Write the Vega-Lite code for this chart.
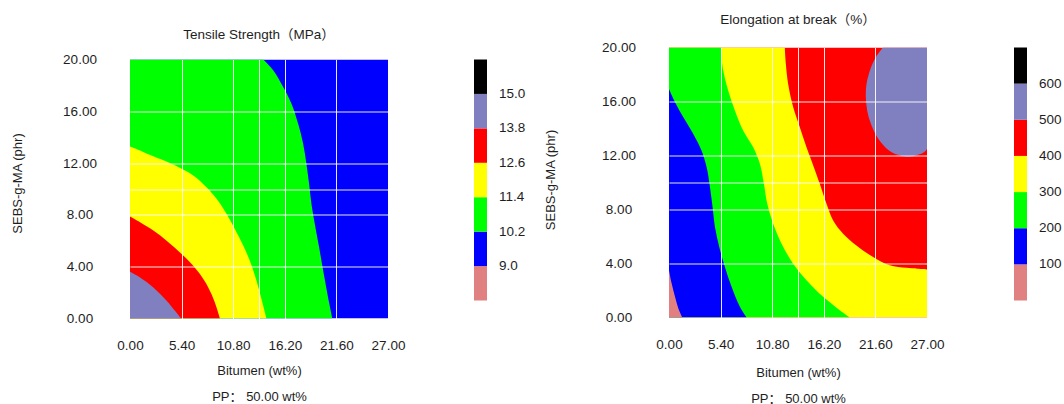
{
  "$schema": "https://vega.github.io/schema/vega-lite/v6.json",
  "padding": {"left": 11, "top": 12.5, "right": 0, "bottom": 0},
  "background": "white",
  "config": {
    "view": {"stroke": null},
    "font": "Liberation Sans, Noto Sans CJK SC",
    "title": {"font": "Liberation Sans, Noto Sans CJK SC", "fontSize": 13.5, "fontWeight": "normal", "color": "#1e1e1e", "anchor": "middle", "frame": "group", "baseline": "alphabetic"},
    "axis": {
      "labelFont": "Liberation Sans", "labelFontSize": 13.5, "labelColor": "#1e1e1e",
      "titleFont": "Liberation Sans, Noto Sans CJK SC", "titleFontSize": 13, "titleFontWeight": "normal", "titleColor": "#1e1e1e",
      "domain": false, "ticks": false, "tickSize": 0, "labelFlush": false, "labelOverlap": false,
      "grid": true, "gridColor": "#ffffff", "gridWidth": 1
    },
    "legend": {"labelFont": "Liberation Sans", "labelFontSize": 13.5, "labelColor": "#1e1e1e"}
  },
  "spacing": 18,
  "resolve": {"scale": {"color": "independent", "x": "independent", "y": "independent"}, "legend": {"color": "independent"}},
  "hconcat": [
    {
      "spacing": 11,
      "resolve": {"scale": {"color": "independent", "x": "independent", "y": "independent"}, "legend": {"color": "independent"}},
      "vconcat": [
        {
          "width": 258,
          "height": 1,
          "title": {"text": "Tensile Strength（MPa）", "offset": -4},
          "data": {"values": []},
          "mark": "rect"
        },
        {
          "width": 258,
          "height": 259,
          "data": {"values": [
            {"band": "blue", "level": 9.6, "y": 0, "x": 27},
            {"band": "blue", "level": 9.6, "y": 20, "x": 27},
            {"band": "green", "level": 10.8, "y": 0, "x": 21.18},
            {"band": "green", "level": 10.8, "y": 1.63, "x": 20.73},
            {"band": "green", "level": 10.8, "y": 3.43, "x": 20.28},
            {"band": "green", "level": 10.8, "y": 5.5, "x": 19.79},
            {"band": "green", "level": 10.8, "y": 7.3, "x": 19.34},
            {"band": "green", "level": 10.8, "y": 8.85, "x": 18.99},
            {"band": "green", "level": 10.8, "y": 10.4, "x": 18.74},
            {"band": "green", "level": 10.8, "y": 11.95, "x": 18.46},
            {"band": "green", "level": 10.8, "y": 13.5, "x": 18.12},
            {"band": "green", "level": 10.8, "y": 15.05, "x": 17.59},
            {"band": "green", "level": 10.8, "y": 16.59, "x": 16.9},
            {"band": "green", "level": 10.8, "y": 17.88, "x": 16.03},
            {"band": "green", "level": 10.8, "y": 19.17, "x": 14.98},
            {"band": "green", "level": 10.8, "y": 20, "x": 13.94},
            {"band": "yellow", "level": 12.0, "y": 0, "x": 14.28},
            {"band": "yellow", "level": 12.0, "y": 1.5, "x": 13.76},
            {"band": "yellow", "level": 12.0, "y": 2.92, "x": 13.24},
            {"band": "yellow", "level": 12.0, "y": 4.46, "x": 12.54},
            {"band": "yellow", "level": 12.0, "y": 5.63, "x": 11.85},
            {"band": "yellow", "level": 12.0, "y": 6.92, "x": 10.97},
            {"band": "yellow", "level": 12.0, "y": 8.08, "x": 10.1},
            {"band": "yellow", "level": 12.0, "y": 9.24, "x": 9.06},
            {"band": "yellow", "level": 12.0, "y": 10.14, "x": 8.01},
            {"band": "yellow", "level": 12.0, "y": 11.05, "x": 6.62},
            {"band": "yellow", "level": 12.0, "y": 11.56, "x": 5.4},
            {"band": "yellow", "level": 12.0, "y": 12.0, "x": 4.18},
            {"band": "yellow", "level": 12.0, "y": 12.52, "x": 2.44},
            {"band": "yellow", "level": 12.0, "y": 12.98, "x": 1.05},
            {"band": "yellow", "level": 12.0, "y": 13.29, "x": 0},
            {"band": "red", "level": 13.2, "y": 0, "x": 9.41},
            {"band": "red", "level": 13.2, "y": 1.24, "x": 8.88},
            {"band": "red", "level": 13.2, "y": 2.4, "x": 8.19},
            {"band": "red", "level": 13.2, "y": 3.43, "x": 7.32},
            {"band": "red", "level": 13.2, "y": 4.21, "x": 6.45},
            {"band": "red", "level": 13.2, "y": 4.98, "x": 5.4},
            {"band": "red", "level": 13.2, "y": 6.01, "x": 3.83},
            {"band": "red", "level": 13.2, "y": 6.79, "x": 2.44},
            {"band": "red", "level": 13.2, "y": 7.43, "x": 1.05},
            {"band": "red", "level": 13.2, "y": 7.87, "x": 0},
            {"band": "purple", "level": 14.4, "y": 0, "x": 5.33},
            {"band": "purple", "level": 14.4, "y": 0.59, "x": 4.7},
            {"band": "purple", "level": 14.4, "y": 1.37, "x": 3.83},
            {"band": "purple", "level": 14.4, "y": 2.4, "x": 2.44},
            {"band": "purple", "level": 14.4, "y": 3.17, "x": 1.05},
            {"band": "purple", "level": 14.4, "y": 3.61, "x": 0}
          ]},
          "encoding": {
            "y": {"field": "y", "type": "quantitative", "scale": {"domain": [0, 20], "nice": false, "zero": false},
              "axis": {"title": "SEBS-g-MA (phr)", "values": [0, 4, 8, 10, 12, 16, 20], "zindex": 1,
                "labelExpr": "datum.value == 10 ? '' : format(datum.value, '.2f')",
                "labelAlign": "center", "labelPadding": 50.5, "titlePadding": 38, "titleY": 123.5,
                "gridOpacity": {"condition": {"test": "datum.value == 0 || datum.value == 20", "value": 0}, "value": 0.9}}},
            "color": {"field": "level", "type": "quantitative",
              "scale": {"type": "threshold", "domain": [9, 10.2, 11.4, 12.6, 13.8, 15],
                "range": ["#e08080", "#0000ff", "#00ff00", "#ffff00", "#ff0000", "#8080c0", "#000000"]},
              "legend": {"type": "gradient", "direction": "vertical", "orient": "right", "offset": 86, "title": null,
                "gradientLength": 241, "gradientThickness": 13, "gradientStrokeWidth": 0,
                "format": ".1f", "labelOffset": 12}}
          },
          "layer": [
            {"transform": [{"filter": "datum.band == 'blue'"}],
              "mark": {"type": "area", "orient": "horizontal", "interpolate": "linear", "opacity": 1, "clip": true},
              "encoding": {"x": {"field": "x", "type": "quantitative", "stack": null, "scale": {"domain": [0, 27], "nice": false, "zero": false},
                "axis": {"title": ["Bitumen (wt%)", "PP： 50.00 wt%"], "titleLineHeight": 26, "values": [0, 5.4, 10.8, 13.5, 16.2, 21.6, 27], "zindex": 1,
                  "labelExpr": "datum.value == 13.5 ? '' : format(datum.value, '.2f')",
                  "labelPadding": 20, "titlePadding": 12.5,
                  "gridOpacity": {"condition": {"test": "datum.value == 0 || datum.value == 27", "value": 0}, "value": 0.9}}}}},
            {"transform": [{"filter": "datum.band == 'green'"}],
              "mark": {"type": "area", "orient": "horizontal", "interpolate": "catmull-rom", "opacity": 1, "clip": true},
              "encoding": {"x": {"field": "x", "type": "quantitative", "stack": null}}},
            {"transform": [{"filter": "datum.band == 'yellow'"}],
              "mark": {"type": "area", "orient": "horizontal", "interpolate": "catmull-rom", "opacity": 1, "clip": true},
              "encoding": {"x": {"field": "x", "type": "quantitative", "stack": null}}},
            {"transform": [{"filter": "datum.band == 'red'"}],
              "mark": {"type": "area", "orient": "horizontal", "interpolate": "catmull-rom", "opacity": 1, "clip": true},
              "encoding": {"x": {"field": "x", "type": "quantitative", "stack": null}}},
            {"transform": [{"filter": "datum.band == 'purple'"}],
              "mark": {"type": "area", "orient": "horizontal", "interpolate": "catmull-rom", "opacity": 1, "clip": true},
              "encoding": {"x": {"field": "x", "type": "quantitative", "stack": null}}},
            {"data": {"values": [{"frame": "plot"}]},
              "mark": {"type": "rect", "filled": false, "strokeWidth": 1.2},
              "encoding": {"x": {"datum": 0, "type": "quantitative"}, "x2": {"datum": 27},
                "y": {"datum": 0, "type": "quantitative"}, "y2": {"datum": 20},
                "color": {"value": "#111111"}}}
          ]
        }
      ]
    },
    {
      "spacing": 2,
      "resolve": {"scale": {"color": "independent", "x": "independent", "y": "independent"}, "legend": {"color": "independent"}},
      "vconcat": [
        {
          "width": 258,
          "height": 1,
          "title": {"text": "Elongation at break（%）", "offset": 10.7},
          "data": {"values": []},
          "mark": "rect"
        },
        {
          "width": 258,
          "height": 270,
          "data": {"values": [
            {"band": "red", "level": 450, "y": 0, "x": 27},
            {"band": "red", "level": 450, "y": 20, "x": 27},
            {"band": "purple", "level": 550, "y": 11.9, "x": 25.0, "x2": 25.0},
            {"band": "purple", "level": 550, "y": 11.95, "x": 24.45, "x2": 25.55},
            {"band": "purple", "level": 550, "y": 12.05, "x": 23.95, "x2": 26.05},
            {"band": "purple", "level": 550, "y": 12.2, "x": 23.4, "x2": 26.6},
            {"band": "purple", "level": 550, "y": 12.5, "x": 22.8, "x2": 27},
            {"band": "purple", "level": 550, "y": 13.0, "x": 22.15, "x2": 27},
            {"band": "purple", "level": 550, "y": 13.6, "x": 21.6, "x2": 27},
            {"band": "purple", "level": 550, "y": 14.4, "x": 21.1, "x2": 27},
            {"band": "purple", "level": 550, "y": 15.3, "x": 20.75, "x2": 27},
            {"band": "purple", "level": 550, "y": 16.3, "x": 20.6, "x2": 27},
            {"band": "purple", "level": 550, "y": 17.2, "x": 20.65, "x2": 27},
            {"band": "purple", "level": 550, "y": 18.0, "x": 20.9, "x2": 27},
            {"band": "purple", "level": 550, "y": 18.8, "x": 21.3, "x2": 27},
            {"band": "purple", "level": 550, "y": 19.4, "x": 21.75, "x2": 27},
            {"band": "purple", "level": 550, "y": 20, "x": 22.4, "x2": 27},
            {"band": "yellow", "level": 350, "y": 0, "x": 27},
            {"band": "yellow", "level": 350, "y": 3.45, "x": 27},
            {"band": "yellow", "level": 350, "y": 3.55, "x": 27},
            {"band": "yellow", "level": 350, "y": 3.62, "x": 26.0},
            {"band": "yellow", "level": 350, "y": 3.68, "x": 24.84},
            {"band": "yellow", "level": 350, "y": 3.87, "x": 23.1},
            {"band": "yellow", "level": 350, "y": 4.48, "x": 21.36},
            {"band": "yellow", "level": 350, "y": 5.34, "x": 19.61},
            {"band": "yellow", "level": 350, "y": 6.21, "x": 18.22},
            {"band": "yellow", "level": 350, "y": 7.19, "x": 17.18},
            {"band": "yellow", "level": 350, "y": 8.42, "x": 16.48},
            {"band": "yellow", "level": 350, "y": 9.9, "x": 15.78},
            {"band": "yellow", "level": 350, "y": 11.13, "x": 15.16},
            {"band": "yellow", "level": 350, "y": 12.61, "x": 14.39},
            {"band": "yellow", "level": 350, "y": 14.09, "x": 13.69},
            {"band": "yellow", "level": 350, "y": 15.57, "x": 13.0},
            {"band": "yellow", "level": 350, "y": 17.29, "x": 12.47},
            {"band": "yellow", "level": 350, "y": 18.77, "x": 12.23},
            {"band": "yellow", "level": 350, "y": 20, "x": 12.12},
            {"band": "green", "level": 250, "y": 0, "x": 18.92},
            {"band": "green", "level": 250, "y": 0.54, "x": 17.87},
            {"band": "green", "level": 250, "y": 1.53, "x": 16.13},
            {"band": "green", "level": 250, "y": 2.76, "x": 14.39},
            {"band": "green", "level": 250, "y": 3.99, "x": 12.99},
            {"band": "green", "level": 250, "y": 5.47, "x": 11.78},
            {"band": "green", "level": 250, "y": 6.95, "x": 10.9},
            {"band": "green", "level": 250, "y": 8.42, "x": 10.28},
            {"band": "green", "level": 250, "y": 9.9, "x": 9.93},
            {"band": "green", "level": 250, "y": 11.38, "x": 9.51},
            {"band": "green", "level": 250, "y": 12.61, "x": 8.81},
            {"band": "green", "level": 250, "y": 13.84, "x": 7.77},
            {"band": "green", "level": 250, "y": 15.32, "x": 6.9},
            {"band": "green", "level": 250, "y": 16.8, "x": 6.2},
            {"band": "green", "level": 250, "y": 18.28, "x": 5.68},
            {"band": "green", "level": 250, "y": 20, "x": 5.43},
            {"band": "blue", "level": 150, "y": 0, "x": 8.12},
            {"band": "blue", "level": 150, "y": 0.79, "x": 7.42},
            {"band": "blue", "level": 150, "y": 2.27, "x": 6.55},
            {"band": "blue", "level": 150, "y": 3.74, "x": 5.85},
            {"band": "blue", "level": 150, "y": 5.22, "x": 5.26},
            {"band": "blue", "level": 150, "y": 6.7, "x": 4.81},
            {"band": "blue", "level": 150, "y": 8.18, "x": 4.56},
            {"band": "blue", "level": 150, "y": 9.65, "x": 4.29},
            {"band": "blue", "level": 150, "y": 11.13, "x": 3.94},
            {"band": "blue", "level": 150, "y": 12.36, "x": 3.41},
            {"band": "blue", "level": 150, "y": 13.6, "x": 2.54},
            {"band": "blue", "level": 150, "y": 14.83, "x": 1.5},
            {"band": "blue", "level": 150, "y": 15.94, "x": 0.63},
            {"band": "blue", "level": 150, "y": 16.92, "x": 0},
            {"band": "pink", "level": 50, "y": 0, "x": 1.39},
            {"band": "pink", "level": 50, "y": 0.67, "x": 0.98},
            {"band": "pink", "level": 50, "y": 1.53, "x": 0.63},
            {"band": "pink", "level": 50, "y": 2.51, "x": 0.28},
            {"band": "pink", "level": 50, "y": 3.5, "x": 0}
          ]},
          "encoding": {
            "y": {"field": "y", "type": "quantitative", "scale": {"domain": [0, 20], "nice": false, "zero": false},
              "axis": {"title": "SEBS-g-MA (phr)", "values": [0, 4, 8, 10, 12, 16, 20], "zindex": 1,
                "labelExpr": "datum.value == 10 ? '' : format(datum.value, '.2f')",
                "labelAlign": "center", "labelPadding": 50.5, "titlePadding": 44, "titleY": 132,
                "gridOpacity": {"condition": {"test": "datum.value == 0 || datum.value == 20", "value": 0}, "value": 0.9}}},
            "color": {"field": "level", "type": "quantitative",
              "scale": {"type": "threshold", "domain": [100, 200, 300, 400, 500, 600],
                "range": ["#e08080", "#0000ff", "#00ff00", "#ffff00", "#ff0000", "#8080c0", "#000000"]},
              "legend": {"type": "gradient", "direction": "vertical", "orient": "right", "offset": 87, "title": null,
                "gradientLength": 253, "gradientThickness": 13, "gradientStrokeWidth": 0,
                "format": ".0f", "labelOffset": 12}}
          },
          "layer": [
            {"transform": [{"filter": "datum.band == 'red'"}],
              "mark": {"type": "area", "orient": "horizontal", "interpolate": "linear", "opacity": 1, "clip": true},
              "encoding": {"x": {"field": "x", "type": "quantitative", "stack": null, "scale": {"domain": [0, 27], "nice": false, "zero": false},
                "axis": {"title": ["Bitumen (wt%)", "PP： 50.00 wt%"], "titleLineHeight": 26, "values": [0, 5.4, 10.8, 13.5, 16.2, 21.6, 27], "zindex": 1,
                  "labelExpr": "datum.value == 13.5 ? '' : format(datum.value, '.2f')",
                  "labelPadding": 20, "titlePadding": 15,
                  "gridOpacity": {"condition": {"test": "datum.value == 0 || datum.value == 27", "value": 0}, "value": 0.9}}}}},
            {"transform": [{"filter": "datum.band == 'purple'"}],
              "mark": {"type": "area", "orient": "horizontal", "interpolate": "catmull-rom", "opacity": 1, "clip": true},
              "encoding": {"x": {"field": "x", "type": "quantitative", "stack": null}, "x2": {"field": "x2"}}},
            {"transform": [{"filter": "datum.band == 'yellow'"}],
              "mark": {"type": "area", "orient": "horizontal", "interpolate": "catmull-rom", "opacity": 1, "clip": true},
              "encoding": {"x": {"field": "x", "type": "quantitative", "stack": null}}},
            {"transform": [{"filter": "datum.band == 'green'"}],
              "mark": {"type": "area", "orient": "horizontal", "interpolate": "catmull-rom", "opacity": 1, "clip": true},
              "encoding": {"x": {"field": "x", "type": "quantitative", "stack": null}}},
            {"transform": [{"filter": "datum.band == 'blue'"}],
              "mark": {"type": "area", "orient": "horizontal", "interpolate": "catmull-rom", "opacity": 1, "clip": true},
              "encoding": {"x": {"field": "x", "type": "quantitative", "stack": null}}},
            {"transform": [{"filter": "datum.band == 'pink'"}],
              "mark": {"type": "area", "orient": "horizontal", "interpolate": "catmull-rom", "opacity": 1, "clip": true},
              "encoding": {"x": {"field": "x", "type": "quantitative", "stack": null}}},
            {"data": {"values": [{"frame": "plot"}]},
              "mark": {"type": "rect", "filled": false, "strokeWidth": 1.2},
              "encoding": {"x": {"datum": 0, "type": "quantitative"}, "x2": {"datum": 27},
                "y": {"datum": 0, "type": "quantitative"}, "y2": {"datum": 20},
                "color": {"value": "#6a6a6a"}}}
          ]
        }
      ]
    }
  ]
}
